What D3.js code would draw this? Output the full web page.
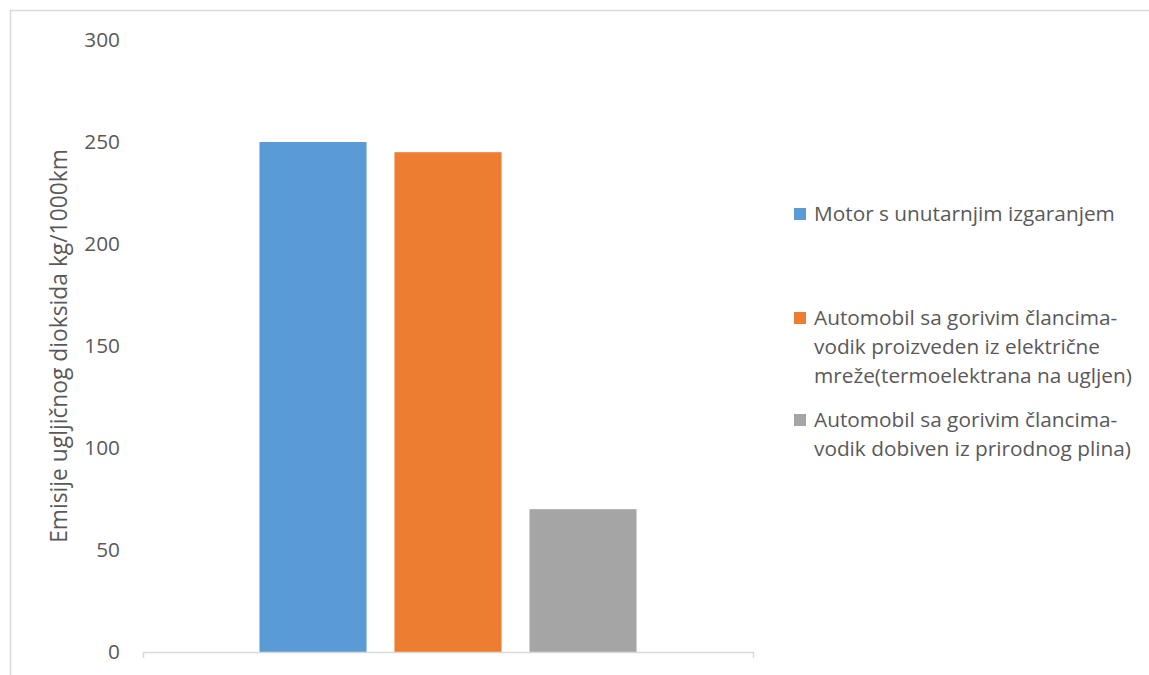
<!DOCTYPE html>
<html>
<head>
<meta charset="utf-8">
<script src="https://cdn.jsdelivr.net/npm/d3@7"></script>
<style>
	body { margin: 0; background: #fff; }
	svg { display: block; font-family: "Open Sans", "Segoe UI", sans-serif; }
</style>
</head>
<body>
<div id="chart"></div>
<script>
// chart values
var categories = ['Emisije'];
var seriesNames = [
	['Motor s unutarnjim izgaranjem'],
	['Automobil sa gorivim člancima-', 'vodik proizveden iz električne', 'mreže(termoelektrana na ugljen)'],
	['Automobil sa gorivim člancima-', 'vodik dobiven iz prirodnog plina)']
];
var seriesValues = [250, 245, 70];
var seriesColors = ['#5b9bd5', '#ed7d31', '#a5a5a5'];
var yTicks = [0, 50, 100, 150, 200, 250, 300];
var yTitle = 'Emisije ugljičnog dioksida kg/1000km';

// layout
var params = {
	width: 1149,
	height: 675,
	plotLeft: 143,
	plotRight: 753,
	plotTop: 40,
	plotBottom: 652,
	textColor: '#595959',
	lineColor: '#d9d9d9',
	fontSize: 20.8,
	titleSize: 22.8,
	legendX: 794,
	legendBaselines: [221, 325, 427],
	legendLineHeight: 29
};

var svg = d3.select('#chart')
	.append('svg')
		.attr('width', params.width)
		.attr('height', params.height);

// outer chart border
svg.append('rect')
	.attr('x', 10.5)
	.attr('y', 10.5)
	.attr('width', params.width + 20)
	.attr('height', params.height + 20)
	.attr('fill', 'none')
	.attr('stroke', params.lineColor)
	.attr('stroke-width', 1.5);

// scales
var yScale = d3.scaleLinear()
	.domain([0, 300])
	.range([params.plotBottom, params.plotTop]);

var x0 = d3.scaleBand()
	.domain(categories)
	.range([params.plotLeft, params.plotRight])
	.padding(0.236);

var x1 = d3.scaleBand()
	.domain(d3.range(seriesValues.length))
	.range([0, x0.bandwidth()])
	.paddingInner(0.207);

// y axis: labels only
var yAxis = svg.append('g')
	.attr('transform', 'translate(120,0)')
	.call(d3.axisLeft(yScale).tickValues(yTicks).tickSize(0).tickPadding(0));
yAxis.select('.domain').remove();
yAxis.selectAll('text')
	.attr('fill', params.textColor)
	.style('font-size', params.fontSize + 'px')
	.style('font-family', '"Open Sans", sans-serif');

// y title
svg.append('text')
	.attr('transform', 'translate(67,' + (params.plotTop + params.plotBottom) / 2 + ') rotate(-90)')
	.attr('text-anchor', 'middle')
	.attr('fill', params.textColor)
	.style('font-size', params.titleSize + 'px')
	.text(yTitle);

// bars
var group = svg.append('g')
	.attr('transform', 'translate(' + x0(categories[0]) + ',0)');
group.selectAll('rect')
	.data(seriesValues)
	.enter()
	.append('rect')
		.attr('x', function(d, i) { return x1(i); })
		.attr('y', function(d) { return yScale(d); })
		.attr('width', x1.bandwidth())
		.attr('height', function(d) { return yScale(0) - yScale(d); })
		.attr('fill', function(d, i) { return seriesColors[i]; });

// category axis line with end ticks
var xAxis = svg.append('g')
	.attr('transform', 'translate(0,' + params.plotBottom + ')')
	.call(d3.axisBottom(d3.scaleLinear().domain([0, 1]).range([params.plotLeft, params.plotRight]))
		.tickValues([]).tickSizeOuter(6));
xAxis.select('.domain')
	.attr('stroke', params.lineColor)
	.attr('stroke-width', 1.5);

// legend
var legend = svg.append('g');
var items = legend.selectAll('g')
	.data(seriesNames)
	.enter()
	.append('g')
		.attr('transform', function(d, i) { return 'translate(' + params.legendX + ',' + params.legendBaselines[i] + ')'; });

items.append('rect')
	.attr('x', 0)
	.attr('y', -13)
	.attr('width', 12)
	.attr('height', 12)
	.attr('fill', function(d, i) { return seriesColors[i]; });

items.append('text')
	.attr('fill', params.textColor)
	.style('font-size', params.fontSize + 'px')
	.selectAll('tspan')
	.data(function(d) { return d; })
	.enter()
	.append('tspan')
		.attr('x', 20)
		.attr('y', function(d, i) { return i * params.legendLineHeight; })
		.text(function(d) { return d; });
</script>
</body>
</html>
